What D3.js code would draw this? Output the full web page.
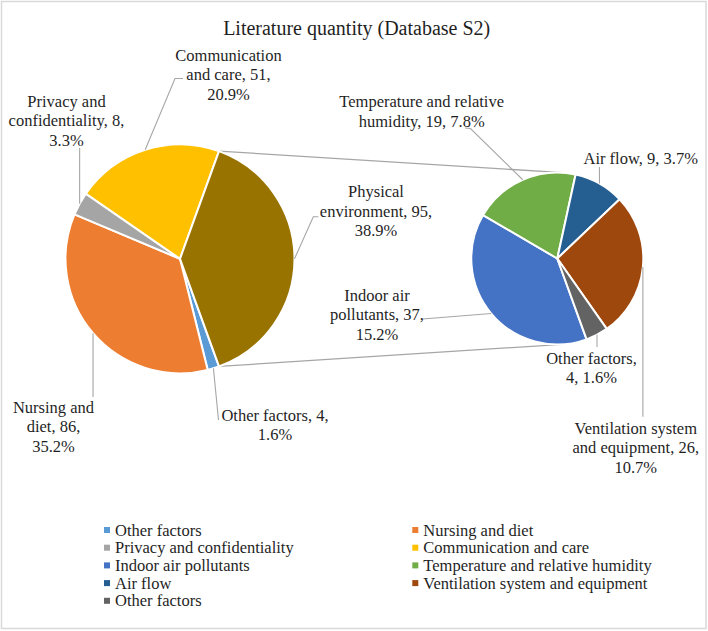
<!DOCTYPE html>
<html><head><meta charset="utf-8">
<script src="https://cdn.jsdelivr.net/npm/d3@7"></script>
<style>
body{margin:0;background:#fff}
text{font-family:"Liberation Serif","Times New Roman",serif;fill:#1f1f1f}
</style>
</head><body>
<svg id="chart" width="708" height="631"></svg>
<script>
// ---------- data ----------
const chartTitle = "Literature quantity (Database S2)";
const mainCategories = ["Other factors", "Nursing and diet", "Privacy and confidentiality", "Communication and care"];
const mainValues = [4, 86, 8, 51];
const mainColors = ["#5B9BD5", "#ED7D31", "#A5A5A5", "#FFC000"];
const otherCategory = "Physical environment";
const otherColor = "#997300";
const subCategories = ["Indoor air pollutants", "Temperature and relative humidity", "Air flow", "Ventilation system and equipment", "Other factors"];
const subValues = [37, 19, 9, 26, 4];
const subColors = ["#4472C4", "#70AD47", "#255E91", "#9E480E", "#636363"];

// ---------- layout ----------
const W = 708, H = 631;
const mainPie = {cx: 180, cy: 258.8, r: 114.5};
const subPie = {cx: 557.3, cy: 258.5, r: 86};
const labelFont = 16.5, lineStep = 19.5;
// label placement (Excel manual positions): centre x, first line centre y, words per line, leader end points
const mainLabelLayout = [
  {cx: 275, cy: 415, words: [3, 1], leader: [[218.5, 420]]},
  {cx: 53.5, cy: 407.3, words: [2, 2, 1], vert: 397},
  {cx: 66.5, cy: 101, words: [2, 2, 1], vert: 148},
  {cx: 228.5, cy: 55, words: [1, 3, 1], leader: [[175, 78.5], [183, 78.5]]}
];
const otherLabelLayout = {cx: 376, cy: 191.7, words: [1, 2, 1], leader: [[313.3, 216.7], [318.3, 216.7]]};
const subLabelLayout = [
  {cx: 377, cy: 295, words: [2, 2, 1], leader: [[422.5, 319]]},
  {cx: 421.7, cy: 101.7, words: [3, 3], leader: [[470.5, 128.5], [465, 128]]},
  {cx: 640.7, cy: 158.3, words: [4], vert: 167},
  {cx: 635.8, cy: 428.3, words: [2, 3, 1], vert: 416.7},
  {cx: 591.5, cy: 358.3, words: [2, 2], vert: 347}
];

const svg = d3.select("#chart");
svg.append("rect").attr("x", 1.5).attr("y", 1.5).attr("width", W - 3.5).attr("height", H - 4)
  .attr("fill", "#fff").attr("stroke", "#d9d9d9").attr("stroke-width", 1.5);

svg.append("text").attr("x", 356.7).attr("y", 35).attr("text-anchor", "middle")
  .style("font-size", "20px").text(chartTitle);

const total = d3.sum(mainValues) + d3.sum(subValues);
const otherValue = d3.sum(subValues);
const pct = v => (v / total * 100).toFixed(1) + "%";

// main pie: aggregated slice centred at 3 o'clock
const otherSpan = otherValue / total * 2 * Math.PI;
const startA = Math.PI / 2 + otherSpan / 2;
const mainData = mainCategories.map((c, i) => ({name: c, value: mainValues[i], color: mainColors[i], layout: mainLabelLayout[i]}))
  .concat([{name: otherCategory, value: otherValue, color: otherColor, layout: otherLabelLayout}]);
const mainArcs = d3.pie().sort(null).value(d => d.value).startAngle(startA).endAngle(startA + 2 * Math.PI)(mainData);

const subData = subCategories.map((c, i) => ({name: c, value: subValues[i], color: subColors[i], layout: subLabelLayout[i]}));
const subArcs = d3.pie().sort(null).value(d => d.value).startAngle(startA).endAngle(startA + 2 * Math.PI)(subData);

const pt = (p, a, rr) => [p.cx + (rr || p.r) * Math.sin(a), p.cy - (rr || p.r) * Math.cos(a)];

// connector lines (tangent to secondary pie)
function tangent(P, C, r, top) {
  const dx = P[0] - C.cx, dy = P[1] - C.cy, d = Math.hypot(dx, dy);
  const ux = dx / d, uy = dy / d, al = Math.acos(r / d);
  const cands = [al, -al].map(a => [C.cx + r * (ux * Math.cos(a) - uy * Math.sin(a)), C.cy + r * (ux * Math.sin(a) + uy * Math.cos(a))]);
  cands.sort((p, q) => p[1] - q[1]);
  return top ? cands[0] : cands[1];
}
const oArc = mainArcs[mainArcs.length - 1];
const pTop = pt(mainPie, oArc.startAngle), pBot = pt(mainPie, oArc.endAngle);
const lineG = svg.append("g").attr("stroke", "#a6a6a6").attr("stroke-width", 1.3).attr("fill", "none");
lineG.append("line").attr("x1", pTop[0]).attr("y1", pTop[1])
  .attr("x2", tangent(pTop, subPie, subPie.r, true)[0]).attr("y2", tangent(pTop, subPie, subPie.r, true)[1]);
lineG.append("line").attr("x1", pBot[0]).attr("y1", pBot[1])
  .attr("x2", tangent(pBot, subPie, subPie.r, false)[0]).attr("y2", tangent(pBot, subPie, subPie.r, false)[1]);

function drawPie(p, arcs) {
  const arc = d3.arc().innerRadius(0).outerRadius(p.r);
  svg.append("g").attr("transform", `translate(${p.cx},${p.cy})`)
    .selectAll("path").data(arcs).join("path")
    .attr("d", arc).attr("fill", d => d.data.color)
    .attr("stroke", "#fff").attr("stroke-width", 2).attr("stroke-linejoin", "round");
}
drawPie(mainPie, mainArcs);
drawPie(subPie, subArcs);

function drawLabels(p, arcs) {
  arcs.forEach(a => {
    const L = a.data.layout;
    const mid = (a.startAngle + a.endAngle) / 2;
    const s = pt(p, mid);
    const pts = [s];
    if (L.vert !== undefined) pts.push([s[0], L.vert]);
    else L.leader.forEach(q => pts.push(q));
    svg.append("path").attr("d", d3.line()(pts)).attr("fill", "none")
      .attr("stroke", "#a6a6a6").attr("stroke-width", 1.1);
    const words = `${a.data.name}, ${a.data.value}, ${pct(a.data.value)}`.split(" ");
    let k = 0;
    const t = svg.append("text").attr("text-anchor", "middle").style("font-size", labelFont + "px");
    L.words.forEach((n, i) => {
      t.append("tspan").attr("x", L.cx).attr("y", L.cy + 5.5 + i * lineStep).text(words.slice(k, k + n).join(" "));
      k += n;
    });
  });
}
drawLabels(mainPie, mainArcs);
drawLabels(subPie, subArcs);

// legend (two columns, row-major)
const legendItems = mainCategories.map((c, i) => ({name: c, color: mainColors[i]}))
  .concat(subCategories.map((c, i) => ({name: c, color: subColors[i]})));
const colX = [104, 412.3], rowY0 = 530, rowStep = 17.7;
const lg = svg.append("g");
legendItems.forEach((d, i) => {
  const col = i % 2, row = Math.floor(i / 2);
  const y = rowY0 + row * rowStep;
  lg.append("rect").attr("x", colX[col]).attr("y", y - 3).attr("width", 6).attr("height", 6).attr("fill", d.color);
  lg.append("text").attr("x", colX[col] + 11).attr("y", y + 5.5).style("font-size", "16.5px").text(d.name);
});
</script>
</body></html>
